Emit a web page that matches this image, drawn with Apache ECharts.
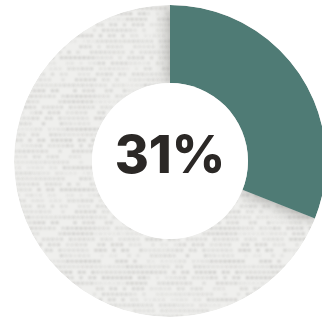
<!DOCTYPE html>
<html>
<head>
<meta charset="utf-8">
<script src="https://cdn.jsdelivr.net/npm/echarts@6/dist/echarts.min.js"></script>
<style>
  html, body { margin: 0; padding: 0; background: #ffffff; }
  #chart { width: 322px; height: 322px; }
</style>
</head>
<body>
<div id="chart"></div>
<script>
// Share of the whole, in percent
const categories = ['Share', 'Rest'];
const values = [31, 69];

const TEAL = '#4f7b75';
const INK = '#2b2826';

// integer mixer used to vary the weave
function mix(n) {
  n = (n ^ 61) ^ (n >>> 16);
  n = n + (n << 3);
  n = n ^ (n >>> 4);
  n = Math.imul(n, 0x27d4eb2d);
  n = n ^ (n >>> 15);
  return (n >>> 0) % 1000 / 1000;
}

// Linen-like tile: soft rows of small dots on a pale grey ground (seamless)
function linenTile() {
  const w = 144, h = 132, rowGap = 5.5;
  const c = document.createElement('canvas');
  c.width = w; c.height = h;
  const ctx = c.getContext('2d');
  ctx.fillStyle = '#efefed';
  ctx.fillRect(0, 0, w, h);
  ctx.filter = 'blur(0.9px)';
  const cols = Math.round(w / 4.5);
  let row = 0;
  for (let y = 1.5; y < h; y += rowGap, row++) {
    for (let i = 0; i < cols; i++) {
      const x = i * 4.5 + (row % 3) * 1.5;
      const run = mix(row * 977 + Math.floor(i / 7) * 31 + 7);
      const k = mix(row * 4099 + i * 131 + 3);
      if (k < 0.2) continue;
      const a = 0.03 + run * 0.2 + k * 0.08;
      ctx.fillStyle = 'rgba(105,103,98,' + a.toFixed(3) + ')';
      for (const dx of [-w, 0, w]) {
        for (const dy of [-h, 0, h]) {
          ctx.fillRect(x + dx, y + dy, 3, 2.5);
        }
      }
    }
  }
  return c;
}

const CENTER = [170, 161];
const R_IN = 78, R_OUT = 156;

const chart = echarts.init(document.getElementById('chart'), null, { renderer: 'canvas' });
chart.setOption({
  animation: false,
  backgroundColor: '#ffffff',
  series: [
    {
      // counter-clockwise from the top: the rest first, the share last so its shade falls on the rest
      type: 'pie',
      center: CENTER,
      radius: [R_IN, R_OUT],
      startAngle: 90,
      clockwise: false,
      silent: true,
      label: { show: false },
      labelLine: { show: false },
      data: [
        {
          name: categories[1], value: values[1],
          itemStyle: { color: { image: linenTile(), repeat: 'repeat' } }
        },
        {
          name: categories[0], value: values[0],
          itemStyle: {
            color: TEAL,
            shadowBlur: 16,
            shadowColor: 'rgba(40,40,35,0.4)'
          }
        }
      ],
      z: 1
    },
    // white trims keeping the ring edges clean
    {
      type: 'pie', center: CENTER, radius: [R_OUT, 400], silent: true,
      label: { show: false }, labelLine: { show: false },
      itemStyle: { color: '#ffffff' }, data: [1], z: 2
    },
    {
      type: 'pie', center: CENTER, radius: [0, R_IN], silent: true,
      label: { show: false }, labelLine: { show: false },
      itemStyle: { color: '#ffffff' }, data: [1], z: 2
    }
  ],
  graphic: [
    {
      type: 'text',
      x: CENTER[0], y: CENTER[1] - 4,
      z: 10,
      style: {
        text: values[0] + '%',
        fill: INK,
        font: '800 52px "Inter", "Open Sans", sans-serif',
        textAlign: 'center',
        textVerticalAlign: 'middle'
      }
    }
  ]
});
</script>
</body>
</html>
